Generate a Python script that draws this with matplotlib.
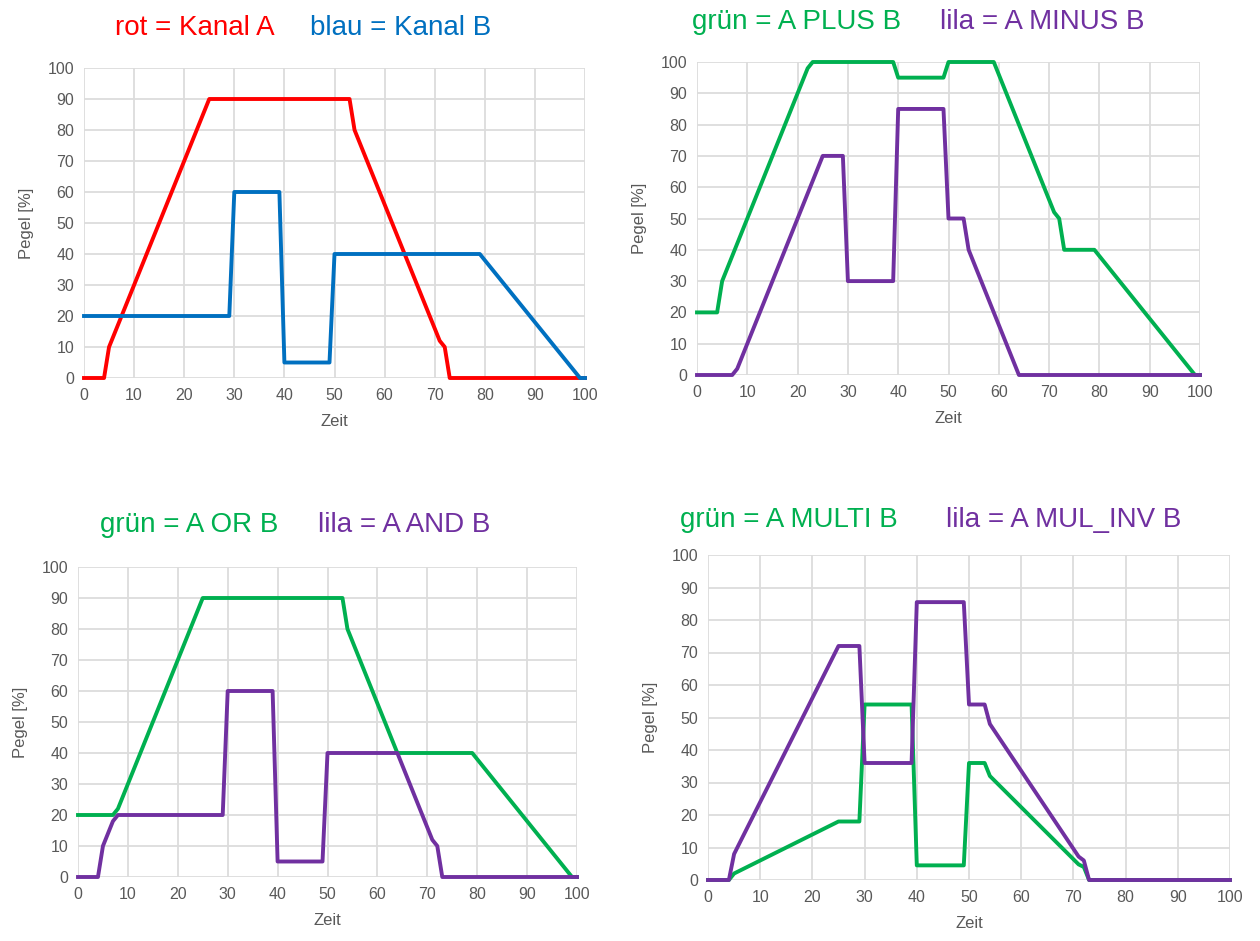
import matplotlib
matplotlib.use("Agg")
import matplotlib.pyplot as plt

plt.rcParams['font.family'] = ['Liberation Sans', 'DejaVu Sans']

# ---- data (breakpoints) ----
a_x = [0, 4, 5, 25, 53, 54, 71, 72, 73, 100]
a_y = [0, 0, 10, 90, 90, 80, 12, 10, 0, 0]
b_x = [0, 29, 30, 39, 40, 49, 50, 79, 99, 100]
b_y = [20, 20, 60, 60, 5, 5, 40, 40, 0, 0]

plus_x = [0, 4, 5, 22, 23, 39, 40, 49, 50, 59, 71, 72, 73, 79, 99, 100]
plus_y = [20, 20, 30, 98, 100, 100, 95, 95, 100, 100, 52, 50, 40, 40, 0, 0]
minus_x = [0, 7, 8, 25, 29, 30, 39, 40, 49, 50, 53, 54, 64, 100]
minus_y = [0, 0, 2, 70, 70, 30, 30, 85, 85, 50, 50, 40, 0, 0]

or_x = [0, 7, 8, 25, 53, 54, 64, 79, 99, 100]
or_y = [20, 20, 22, 90, 90, 80, 40, 40, 0, 0]
and_x = [0, 4, 5, 7, 8, 29, 30, 39, 40, 49, 50, 64, 71, 72, 73, 100]
and_y = [0, 0, 10, 18, 20, 20, 60, 60, 5, 5, 40, 40, 12, 10, 0, 0]

multi_x = [0, 4, 5, 25, 29, 30, 39, 40, 49, 50, 53, 54, 71, 72, 73, 100]
multi_y = [0, 0, 2, 18, 18, 54, 54, 4.5, 4.5, 36, 36, 32, 4.8, 4, 0, 0]
mulinv_x = [0, 4, 5, 25, 29, 30, 39, 40, 49, 50, 53, 54, 71, 72, 73, 100]
mulinv_y = [0, 0, 8, 72, 72, 36, 36, 85.5, 85.5, 54, 54, 48, 7.2, 6, 0, 0]

ticks = list(range(0, 101, 10))

RED = '#FF0000'
BLUE = '#0070C0'
GREEN = '#00B050'
PURPLE = '#7030A0'
GRAY = '#595959'

W, H = 1260, 941
fig = plt.figure(figsize=(W / 100, H / 100), dpi=100)


def make_axes(x0, x1, ytop, ybot):
    return fig.add_axes([x0 / W, 1 - ybot / H, (x1 - x0) / W, (ybot - ytop) / H])


def style(ax):
    ax.set_xlim(0, 100)
    ax.set_ylim(0, 100)
    ax.set_xticks(ticks)
    ax.set_yticks(ticks)
    ax.grid(True, color='#DCDCDC', linewidth=1.3)
    ax.set_axisbelow(True)
    for s in ax.spines.values():
        s.set_visible(False)
    ax.tick_params(length=0, labelsize=11.5, labelcolor=GRAY, pad=7)
    ax.set_xlabel('Zeit', fontsize=12, color=GRAY, labelpad=8)
    ax.set_ylabel('Pegel [%]', fontsize=12, color=GRAY, labelpad=10)


def title(parts, y):
    for (txt, col, x) in parts:
        fig.text(x / W, 1 - y / H, txt, color=col, fontsize=20, ha='left', va='center')


LW = 2.8

# top-left
ax1 = make_axes(84, 585, 68, 378)
style(ax1)
ax1.plot(a_x, a_y, color=RED, lw=LW, clip_on=False)
ax1.plot(b_x, b_y, color=BLUE, lw=LW, clip_on=False)
title([('rot = Kanal A', RED, 115), ('blau = Kanal B', BLUE, 310)], 28)

# top-right
ax2 = make_axes(697, 1200, 62, 375)
style(ax2)
ax2.plot(plus_x, plus_y, color=GREEN, lw=LW, clip_on=False)
ax2.plot(minus_x, minus_y, color=PURPLE, lw=LW, clip_on=False)
title([('grün = A PLUS B', GREEN, 692), ('lila = A MINUS B', PURPLE, 940)], 22)

# bottom-left
ax3 = make_axes(78, 577, 567, 877)
style(ax3)
ax3.plot(or_x, or_y, color=GREEN, lw=LW, clip_on=False)
ax3.plot(and_x, and_y, color=PURPLE, lw=LW, clip_on=False)
title([('grün = A OR B', GREEN, 100), ('lila = A AND B', PURPLE, 318)], 525)

# bottom-right
ax4 = make_axes(708, 1230, 555, 880)
style(ax4)
ax4.plot(multi_x, multi_y, color=GREEN, lw=LW, clip_on=False)
ax4.plot(mulinv_x, mulinv_y, color=PURPLE, lw=LW, clip_on=False)
title([('grün = A MULTI B', GREEN, 680), ('lila = A MUL_INV B', PURPLE, 946)], 520)

fig.savefig('out.png', dpi=100, facecolor='white')
